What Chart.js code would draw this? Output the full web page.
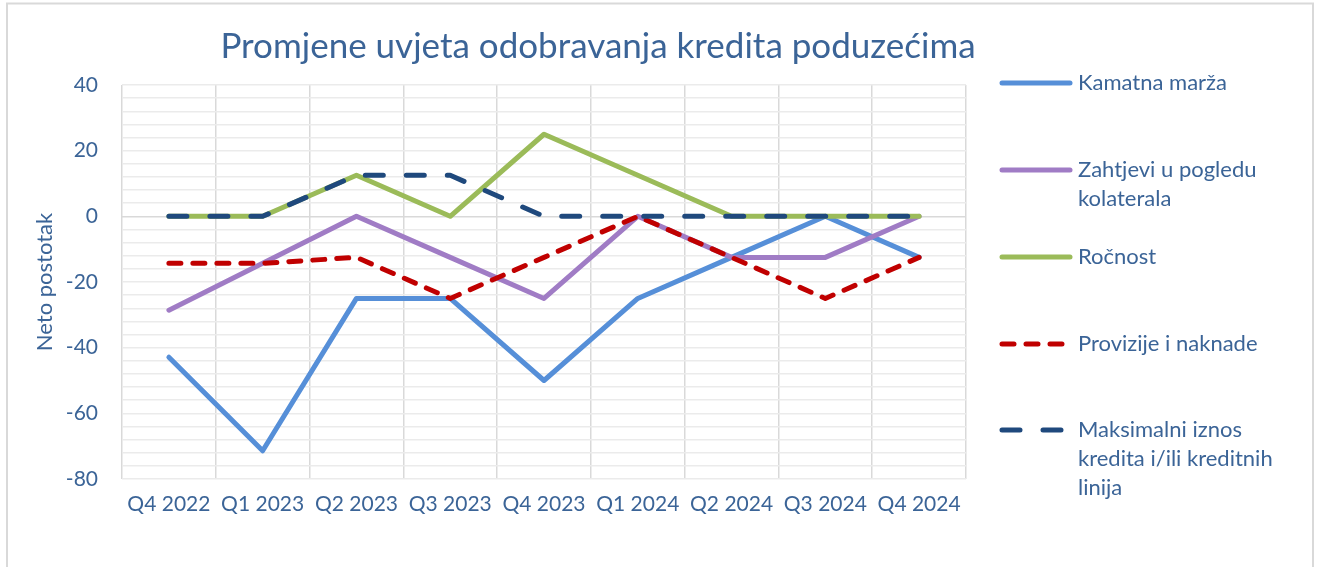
<!DOCTYPE html>
<html>
<head>
<meta charset="utf-8">
<script src="https://cdn.jsdelivr.net/npm/chart.js@4"></script>
<style>
  html, body { margin: 0; padding: 0; background: #fff; }
  #wrap { position: relative; width: 1317px; height: 567px; }
</style>
</head>
<body>
<div id="wrap"><canvas id="creditChart" width="1317" height="567"></canvas></div>
<script>
// chart data
const chartTitle = 'Promjene uvjeta odobravanja kredita poduzećima';
const yTitle = 'Neto postotak';
const quarters = ['Q4 2022', 'Q1 2023', 'Q2 2023', 'Q3 2023', 'Q4 2023', 'Q1 2024', 'Q2 2024', 'Q3 2024', 'Q4 2024'];

const kamatnaMarza = [-42.9, -71.4, -25, -25, -50, -25, -12.5, 0, -12.5];
const zahtjeviKolateral = [-28.6, -14.3, 0, -12.5, -25, 0, -12.5, -12.5, 0];
const rocnost = [0, 0, 12.5, 0, 25, 12.5, 0, 0, 0];
const provizije = [-14.3, -14.3, -12.5, -25, -12.5, 0, -12.5, -25, -12.5];
const maksIznos = [0, 0, 12.5, 12.5, 0, 0, 0, 0, 0];

// legend labels, split in lines like the original
const legendLines = [
  ['Kamatna marža'],
  ['Zahtjevi u pogledu', 'kolaterala'],
  ['Ročnost'],
  ['Provizije i naknade'],
  ['Maksimalni iznos', 'kredita i/ili kreditnih', 'linija']
];

const yTickLabels = [-80, -60, -40, -20, 0, 20, 40];

const textColor = '#3b6497';
const fontFamily = 'Lato, "Open Sans", sans-serif';

// frame, title and legend drawn by hand
const extrasPlugin = {
  id: 'extras',
  beforeDraw(chart) {
    const c = chart.ctx;
    c.save();
    c.strokeStyle = '#d9d9d9';
    c.lineWidth = 2;
    c.strokeRect(7, 3.5, 1306, 570);
    c.restore();
  },
  afterDraw(chart) {
    const c = chart.ctx;
    c.save();
    c.fillStyle = textColor;
    c.font = '35px ' + fontFamily;
    c.textAlign = 'center';
    c.textBaseline = 'middle';
    c.fillText(chartTitle, 598, 47);

    // legend
    const itemY = [83, 170, 257, 344, 430];
    c.font = '22px ' + fontFamily;
    c.textAlign = 'left';
    chart.data.datasets.forEach((ds, i) => {
      const y = itemY[i];
      c.beginPath();
      c.strokeStyle = ds.borderColor;
      c.lineWidth = ds.borderWidth;
      c.lineCap = 'round';
      c.setLineDash(ds.borderDash || []);
      c.moveTo(1002, y);
      c.lineTo(1070, y);
      c.stroke();
      c.setLineDash([]);
      legendLines[i].forEach((line, j) => {
        c.fillText(line, 1078, y + j * 29);
      });
    });
    c.restore();
  }
};

const ctx = document.getElementById('creditChart').getContext('2d');

new Chart(ctx, {
  type: 'line',
  data: {
    labels: quarters,
    datasets: [
      { label: 'Kamatna marža', data: kamatnaMarza, borderColor: '#568fd8', order: 5 },
      { label: 'Zahtjevi u pogledu kolaterala', data: zahtjeviKolateral, borderColor: '#a07cc5', order: 4 },
      { label: 'Ročnost', data: rocnost, borderColor: '#9bbb59', order: 3 },
      { label: 'Provizije i naknade', data: provizije, borderColor: '#c00000', borderDash: [12, 12], order: 2 },
      { label: 'Maksimalni iznos kredita i/ili kreditnih linija', data: maksIznos, borderColor: '#1f497d', borderDash: [18, 23], order: 1 }
    ].map(ds => Object.assign({
      borderWidth: 5,
      pointRadius: 0,
      tension: 0,
      fill: false,
      borderCapStyle: 'round',
      borderJoinStyle: 'round'
    }, ds))
  },
  options: {
    responsive: false,
    animation: false,
    layout: { padding: { top: 85, right: 351, left: 0, bottom: 0 } },
    plugins: {
      legend: { display: false },
      title: { display: false },
      tooltip: { enabled: false }
    },
    scales: {
      x: {
        offset: true,
        grid: { offset: true, color: '#d9d9d9', lineWidth: 1.5, drawTicks: false },
        border: { display: false },
        ticks: { color: textColor, font: { family: fontFamily, size: 21 }, padding: 13, maxRotation: 0, autoSkip: false },
        afterFit(scale) { scale.height = 88; }
      },
      y: {
        min: -80,
        max: 40,
        ticks: {
          stepSize: 4,
          autoSkip: false,
          color: textColor,
          font: { family: fontFamily, size: 21 },
          padding: 24,
          callback: v => yTickLabels.includes(v) ? v : ''
        },
        grid: {
          drawTicks: false,
          lineWidth: 1.5,
          color: c => c.tick && c.tick.value === 0 ? '#d9d9d9' : '#ebebeb'
        },
        border: { display: false },
        title: {
          display: true,
          text: yTitle,
          color: textColor,
          font: { family: fontFamily, size: 22 },
          padding: { top: 32, bottom: 0 }
        },
        afterFit(scale) { scale.width = 122; }
      }
    }
  },
  plugins: [extrasPlugin]
});
</script>
</body>
</html>
